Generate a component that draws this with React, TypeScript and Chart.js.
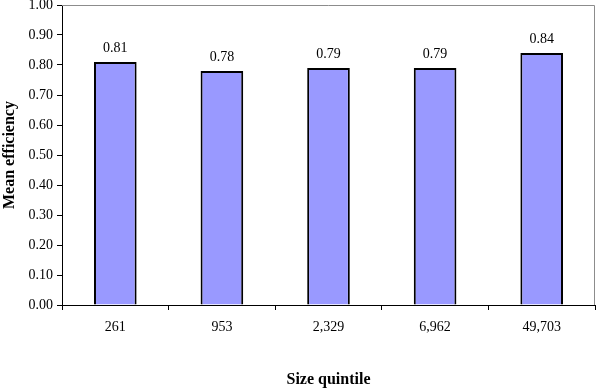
import React, { useEffect, useRef } from "react";
import { Chart, registerables } from "chart.js";

Chart.register(...registerables);

const categories = ["261", "953", "2,329", "6,962", "49,703"];
const meanEfficiency = [0.81, 0.78, 0.79, 0.79, 0.84];
const valueLabels = ["0.81", "0.78", "0.79", "0.79", "0.84"];

const SERIF = "'Liberation Serif', 'Times New Roman', serif";

const frameAndLabels = {
  id: "frameAndLabels",
  afterDatasetsDraw(chart: any) {
    const { ctx, chartArea } = chart;
    ctx.save();
    ctx.strokeStyle = "#8c8c8c";
    ctx.lineWidth = 1;
    ctx.beginPath();
    ctx.moveTo(chartArea.left, chartArea.top + 0.5);
    ctx.lineTo(chartArea.right - 0.5, chartArea.top + 0.5);
    ctx.lineTo(chartArea.right - 0.5, chartArea.bottom);
    ctx.stroke();
    const meta = chart.getDatasetMeta(0);
    ctx.fillStyle = "#000";
    ctx.font = `14px ${SERIF}`;
    ctx.textAlign = "center";
    ctx.textBaseline = "middle";
    meta.data.forEach((bar: any, i: number) => {
      ctx.fillText(valueLabels[i], bar.x, bar.y - 14);
    });
    ctx.restore();
  },
};

export default function App() {
  const ref = useRef<HTMLCanvasElement>(null);
  useEffect(() => {
    const chart = new Chart(ref.current!, {
      type: "bar",
      data: {
        labels: categories,
        datasets: [
          {
            data: meanEfficiency,
            backgroundColor: "#9999FF",
            borderColor: "#000000",
            borderWidth: 2,
            barPercentage: 0.4,
            categoryPercentage: 1,
          },
        ],
      },
      options: {
        animation: false,
        responsive: false,
        maintainAspectRatio: false,
        layout: { padding: { left: 0, right: 4, top: 5, bottom: 0 } },
        plugins: { legend: { display: false }, tooltip: { enabled: false } },
        scales: {
          x: {
            grid: {
              display: true,
              drawOnChartArea: false,
              drawTicks: true,
              tickLength: 5,
              color: "#000",
              offset: true,
            },
            border: { display: true, color: "#000", width: 1 },
            ticks: {
              color: "#000",
              font: { family: SERIF, size: 14 },
              padding: 9,
              maxRotation: 0,
            },
            title: {
              display: true,
              text: "Size quintile",
              color: "#000",
              font: { family: SERIF, size: 16, weight: "bold" },
              padding: { top: 0, bottom: 1 },
            },
            afterFit(scale: any) {
              scale.height = 85;
              scale.paddingLeft = 0;
              scale.paddingRight = 0;
            },
          },
          y: {
            min: 0,
            max: 1,
            grid: {
              display: true,
              drawOnChartArea: false,
              drawTicks: true,
              tickLength: 5,
              color: "#000",
            },
            border: { display: true, color: "#000", width: 1 },
            ticks: {
              stepSize: 0.1,
              color: "#000",
              font: { family: SERIF, size: 14 },
              padding: 4,
              callback: (v: any) => Number(v).toFixed(2),
            },
            title: {
              display: true,
              text: "Mean efficiency",
              color: "#000",
              font: { family: SERIF, size: 16, weight: "bold" },
              padding: { top: 0, bottom: 0 },
            },
            afterFit(scale: any) {
              scale.width = 62;
              scale.paddingTop = 0;
              scale.paddingBottom = 0;
            },
          },
        },
      },
      plugins: [frameAndLabels],
    });
    return () => chart.destroy();
  }, []);
  return (
    <div style={{ position: "fixed", left: 0, top: 0, width: 599, height: 390, background: "#fff" }}>
      <canvas ref={ref} width={599} height={390} style={{ display: "block" }} />
    </div>
  );
}
